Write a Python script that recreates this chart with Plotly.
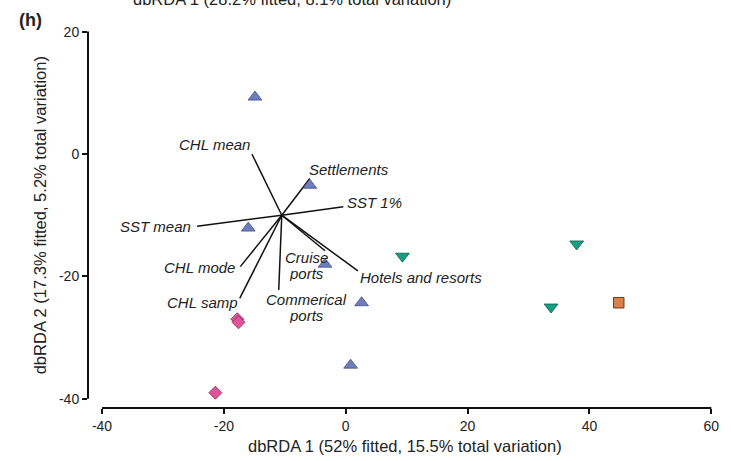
import plotly.graph_objects as go

# ---- sample scores on dbRDA axes ----
blue_x = [-14.9, -5.9, -16.0, -3.4, 2.6, 0.8]
blue_y = [9.3, -5.1, -12.1, -18.0, -24.3, -34.5]

teal_x = [9.3, 37.9, 33.7]
teal_y = [-16.7, -14.7, -25.0]

orange_x = [44.8]
orange_y = [-24.3]

pink_x = [-17.8, -17.6, -21.4]
pink_y = [-27.0, -27.5, -39.0]

# ---- predictor vectors (shared origin) ----
vec_origin = (-10.5, -10.0)
vec_names = ["CHL mean", "Settlements", "SST 1%", "SST mean", "CHL mode",
             "CHL samp", "Commerical\nports", "Cruise\nports", "Hotels and resorts"]
vec_x = [-15.4, -5.9, -0.4, -24.4, -17.3, -17.4, -11.0, -3.4, 2.0]
vec_y = [0.0, -4.0, -8.6, -11.8, -18.4, -23.6, -22.2, -15.8, -19.1]

# label placement for each vector (data units, centre of the text block)
label_pos = {
    "CHL mean": (-21.6, 1.6),
    "Settlements": (0.5, -2.6),
    "SST 1%": (4.7, -8.0),
    "SST mean": (-31.2, -11.8),
    "CHL mode": (-24.0, -18.6),
    "CHL samp": (-23.5, -24.2),
    "Commerical\nports": (-6.5, -25.0),
    "Cruise\nports": (-6.5, -18.1),
    "Hotels and resorts": (12.3, -20.1),
}
LINE_STEP = 2.6   # vertical spacing between label lines, in y units (~16 px)
LINE_BOX = 16     # text box height per label line, px

x_ticks = [-40, -20, 0, 20, 40, 60]
y_ticks = [-40, -20, 0, 20]

FONT = "Liberation Sans, Arial, Helvetica, sans-serif"
TXT = "#222222"

fig = go.Figure()

# vectors
for name, ex, ey in zip(vec_names, vec_x, vec_y):
    fig.add_trace(go.Scatter(
        x=[vec_origin[0], ex], y=[vec_origin[1], ey], mode="lines",
        line=dict(color="#111111", width=1.5), showlegend=False, hoverinfo="skip"))

# sample points
fig.add_trace(go.Scatter(
    x=blue_x, y=blue_y, mode="markers",
    marker=dict(symbol="triangle-up", size=12, color="#6D7DBE",
                line=dict(color="#454f80", width=0.8)), showlegend=False))
fig.add_trace(go.Scatter(
    x=teal_x, y=teal_y, mode="markers",
    marker=dict(symbol="triangle-down", size=12, color="#15A084",
                line=dict(color="#0b5a4a", width=0.8)), showlegend=False))
fig.add_trace(go.Scatter(
    x=orange_x, y=orange_y, mode="markers",
    marker=dict(symbol="square", size=10.5, color="#D9834A",
                line=dict(color="#6b3a1a", width=1)), showlegend=False))
fig.add_trace(go.Scatter(
    x=pink_x, y=pink_y, mode="markers",
    marker=dict(symbol="diamond", size=10, color="#E0559A",
                line=dict(color="#7a2a50", width=0.8)), showlegend=False))

annotations = []
for name in vec_names:
    lx, ly = label_pos[name]
    lines = name.split("\n")
    top = ly + LINE_STEP * (len(lines) - 1) / 2
    for i, part in enumerate(lines):
        ann = dict(
            x=lx, y=top - i * LINE_STEP, xref="x", yref="y", text=part, showarrow=False,
            xanchor="center", yanchor="middle",
            font=dict(family=FONT, size=15, color=TXT, style="italic"))
        if len(lines) > 1:
            ann.update(height=LINE_BOX, borderpad=0)
        annotations.append(ann)

# axis titles and panel tag
annotations += [
    dict(x=0.506, y=-0.1, xref="paper", yref="paper", showarrow=False,
         text="dbRDA 1 (52% fitted, 15.5% total variation)",
         xanchor="center", yanchor="middle", font=dict(family=FONT, size=16.5, color=TXT)),
    dict(x=-0.076, y=0.508, xref="paper", yref="paper", showarrow=False, textangle=-90,
         text="dbRDA 2 (17.3% fitted, 5.2% total variation)",
         xanchor="center", yanchor="middle", font=dict(family=FONT, size=16.5, color=TXT)),
    dict(x=0.325, y=1.076, xref="paper", yref="paper", showarrow=False,
         text="dbRDA 1 (28.2% fitted, 8.1% total variation)",
         xanchor="center", yanchor="middle", font=dict(family=FONT, size=16.5, color=TXT)),
    dict(x=-0.092, y=1.021, xref="paper", yref="paper", showarrow=False,
         text="<b>(h)</b>", xanchor="center", yanchor="middle",
         font=dict(family=FONT, size=18, color=TXT)),
]

# offset axis lines spanning only the tick range
shapes = [
    dict(type="line", xref="x", yref="paper", x0=-40, x1=60, y0=0, y1=0,
         line=dict(color="#111111", width=2)),
    dict(type="line", xref="paper", yref="y", x0=0, x1=0, y0=-40, y1=20,
         line=dict(color="#111111", width=2)),
]

fig.update_layout(
    width=731, height=461,
    margin=dict(l=88, r=13, t=28, b=53),
    paper_bgcolor="white", plot_bgcolor="white",
    annotations=annotations, shapes=shapes,
    xaxis=dict(range=[-42.3, 60.6], showgrid=False, zeroline=False, showline=False,
               tickvals=x_ticks, ticktext=[str(v) for v in x_ticks],
               ticks="outside", ticklen=5, tickwidth=2, tickcolor="#111111",
               tickfont=dict(family=FONT, size=14, color=TXT)),
    yaxis=dict(range=[-41.5, 20.59], showgrid=False, zeroline=False, showline=False,
               tickvals=y_ticks, ticktext=[str(v) for v in y_ticks],
               ticks="outside", ticklen=5, tickwidth=2, tickcolor="#111111",
               tickfont=dict(family=FONT, size=14, color=TXT)),
)

fig.write_html("out.html")
